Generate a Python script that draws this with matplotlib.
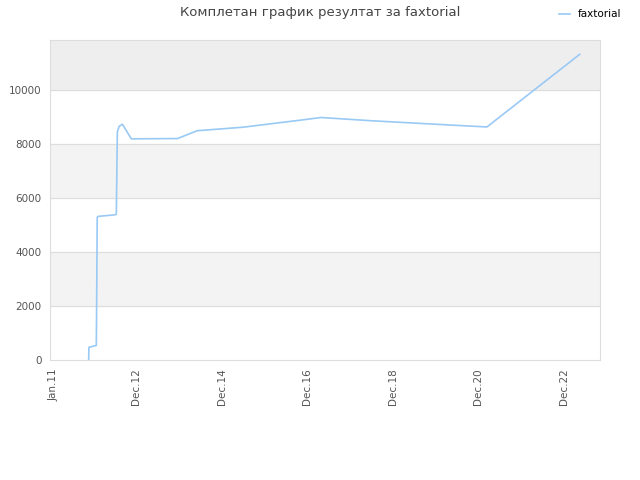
import matplotlib
matplotlib.use("Agg")
import matplotlib.pyplot as plt
import pandas as pd

dates = ["2011-10-24", "2011-10-26", "2011-12-28", "2011-12-30", "2012-01-05",
         "2012-01-15", "2012-05-22", "2012-06-16", "2012-06-22", "2012-06-25",
         "2012-07-10", "2012-08-07", "2012-10-22", "2013-11-20", "2014-05-07",
         "2015-06-01", "2016-11-07", "2017-03-28", "2018-06-01", "2020-04-10",
         "2021-02-12", "2023-04-15"]
values = [30, 470, 540, 1400, 5290, 5320, 5370, 5390, 7500, 8450, 8650, 8730,
          8190, 8200, 8490, 8620, 8900, 8980, 8860, 8700, 8630, 11320]

tick_dates = ["2011-01-01", "2012-12-01", "2014-12-01", "2016-12-01",
              "2018-12-01", "2020-12-01", "2022-12-01"]
tick_labels = ["Jan.11", "Dec.12", "Dec.14", "Dec.16", "Dec.18", "Dec.20", "Dec.22"]

x = pd.to_datetime(dates)

fig = plt.figure(figsize=(6.4, 4.8), dpi=100)
ax = fig.add_axes([50 / 640, 120 / 480, 550 / 640, 320 / 480])

# alternating bands
ax.axhspan(10000, 12000, color="#eeeeee", zorder=0)
ax.axhspan(6000, 8000, color="#f3f3f3", zorder=0)
ax.axhspan(2000, 4000, color="#f3f3f3", zorder=0)
for yv in range(2000, 12000, 2000):
    ax.axhline(yv, color="#dddddd", lw=0.8, zorder=1)

line, = ax.plot(x, values, color="#99c9f5", lw=1.2, zorder=3, label="faxtorial")

ax.set_xlim(pd.Timestamp("2010-11-28"), pd.Timestamp("2023-10-05"))
ax.set_ylim(0, 11850)
ax.set_yticks(range(0, 12000, 2000))
ax.set_xticks(pd.to_datetime(tick_dates))
ax.set_xticklabels(tick_labels, rotation=90)
ax.tick_params(length=0, labelsize=7.5, labelcolor="#555555", pad=6)

for s in ax.spines.values():
    s.set_color("#dddddd")

fig.suptitle("Комплетан график резултат за faxtorial", x=0.5, y=0.988,
             fontsize=9.5, color="#444444")
fig.legend(handles=[line], loc="upper right", bbox_to_anchor=(0.986, 1.0),
           frameon=False, fontsize=7.5, handlelength=1.0, handletextpad=0.8)

plt.savefig("out.png", dpi=100)
